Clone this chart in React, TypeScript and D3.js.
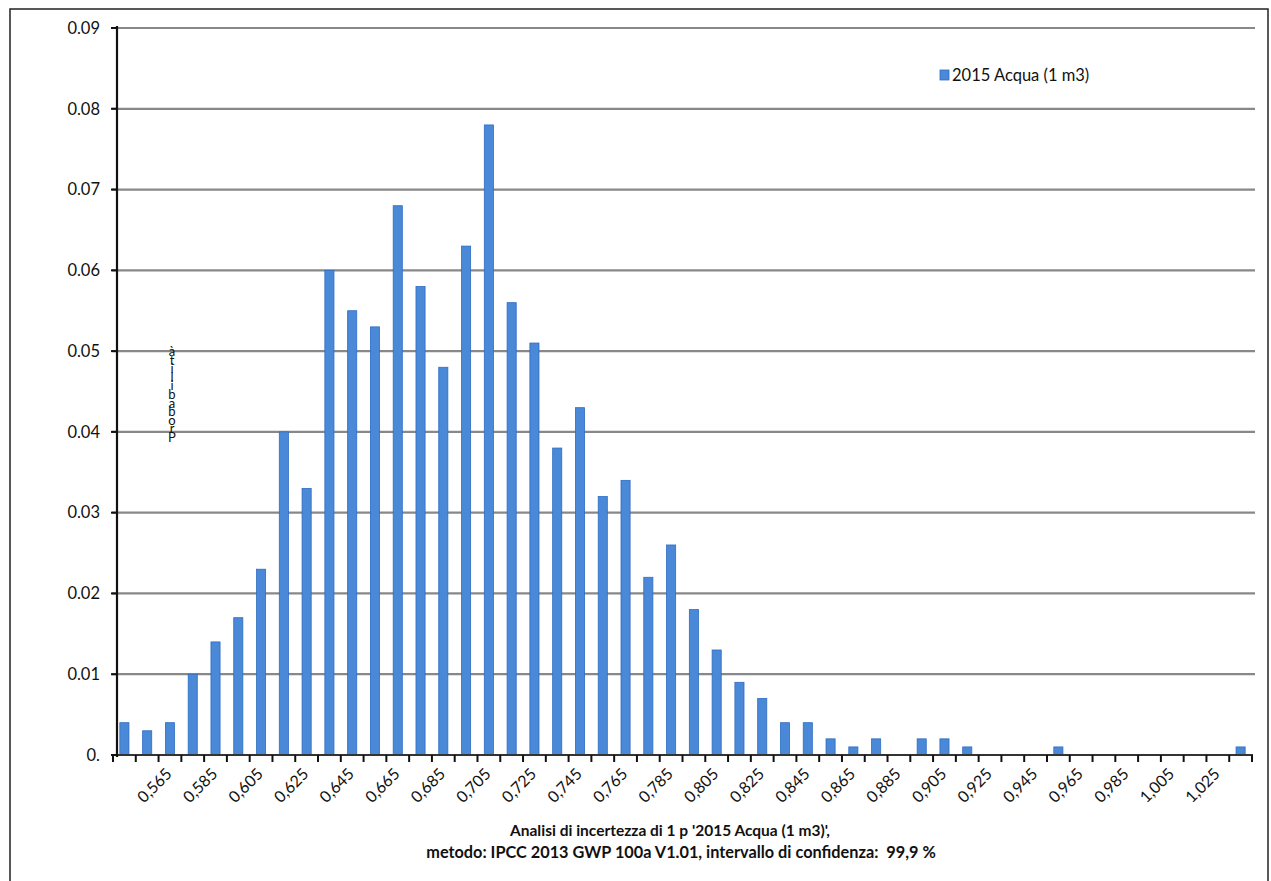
import React from "react";
import * as d3 from "d3";

const categories: string[] = [
  "0,545","0,555","0,565","0,575","0,585","0,595","0,605","0,615","0,625","0,635",
  "0,645","0,655","0,665","0,675","0,685","0,695","0,705","0,715","0,725","0,735",
  "0,745","0,755","0,765","0,775","0,785","0,795","0,805","0,815","0,825","0,835",
  "0,845","0,855","0,865","0,875","0,885","0,895","0,905","0,915","0,925","0,935",
  "0,945","0,955","0,965","0,975","0,985","0,995","1,005","1,015","1,025","1,035"
];

const values: number[] = [
  0.004,0.003,0.004,0.010,0.014,0.017,0.023,0.040,0.033,0.060,
  0.055,0.053,0.068,0.058,0.048,0.063,0.078,0.056,0.051,0.038,
  0.043,0.032,0.034,0.022,0.026,0.018,0.013,0.009,0.007,0.004,
  0.004,0.002,0.001,0.002,0.000,0.002,0.002,0.001,0.000,0.000,
  0.000,0.001,0.000,0.000,0.000,0.000,0.000,0.000,0.000,0.001
];

const xTickLabels: string[] = [
  "0,565","0,585","0,605","0,625","0,645","0,665","0,685","0,705","0,725","0,745",
  "0,765","0,785","0,805","0,825","0,845","0,865","0,885","0,905","0,925","0,945",
  "0,965","0,985","1,005","1,025"
];

const yTicks: number[] = [0, 0.01, 0.02, 0.03, 0.04, 0.05, 0.06, 0.07, 0.08, 0.09];
const yTickLabels: string[] = ["0.", "0.01", "0.02", "0.03", "0.04", "0.05", "0.06", "0.07", "0.08", "0.09"];

const seriesName = "2015 Acqua (1 m3)";
const yTitle = "Probabilità";
const title1 = "Analisi di incertezza di 1 p '2015 Acqua (1 m3)',";
const title2 = "metodo: IPCC 2013 GWP 100a V1.01, intervallo di confidenza:  99,9 %";

const W = 1271;
const H = 881;
const FONT = "Lato, 'Open Sans', sans-serif";

export default function App() {
  const x = d3
    .scaleBand<string>()
    .domain(categories)
    .range([113, 1252])
    .paddingInner(0.6)
    .paddingOuter(0.3);
  const step = x.step();
  const y = d3.scaleLinear().domain([0, 0.09]).range([755, 28]);
  const x0 = 113;
  const x1 = 1252;
  const yAxisX = 117;
  const stacked = Array.from(yTitle).reverse().join("");

  return (
    <svg
      width={W}
      height={H}
      style={{ position: "absolute", left: 0, top: 0, background: "#fff" }}
      fontFamily={FONT}
    >
      <rect x={0} y={0} width={W} height={H} fill="#fff" />
      {/* outer border */}
      <rect x={10} y={9} width={1258} height={H + 10} fill="none" stroke="#222" strokeWidth={1.5} />

      {/* gridlines */}
      {yTicks.map((t, i) =>
        t === 0 ? null : (
          <line key={"g" + i} x1={yAxisX - 5} x2={1255} y1={y(t)} y2={y(t)} stroke="#888" strokeWidth={2.2} />
        )
      )}

      {/* bars */}
      {categories.map((c, i) =>
        values[i] > 0 ? (
          <rect
            key={"b" + i}
            x={x(c)!}
            y={y(values[i])}
            width={x.bandwidth()}
            height={y(0) - y(values[i])}
            fill="#4a88d8"
            stroke="#2f6cc4"
            strokeWidth={0.8}
          />
        ) : null
      )}

      {/* x axis */}
      <line x1={x0} x2={x1 + 1} y1={y(0)} y2={y(0)} stroke="#333" strokeWidth={2} />
      {d3.range(categories.length + 1).map((i) => (
        <line
          key={"xt" + i}
          x1={x0 + i * step}
          x2={x0 + i * step}
          y1={y(0)}
          y2={y(0) + 7}
          stroke="#111"
          strokeWidth={2}
        />
      ))}

      {/* y axis */}
      <line x1={yAxisX} x2={yAxisX} y1={y(0.09) - 2} y2={y(0) + 2} stroke="#111" strokeWidth={2.2} />
      {yTicks.map((t, i) => (
        <g key={"yt" + i}>
          <line x1={yAxisX - 6} x2={yAxisX} y1={y(t)} y2={y(t)} stroke="#111" strokeWidth={2} />
          <text x={100} y={y(t)} dy="0.35em" textAnchor="end" fontSize={16.5} fill="#111">
            {yTickLabels[i]}
          </text>
        </g>
      ))}

      {/* x tick labels */}
      {xTickLabels.map((lab) => {
        const cx = x(lab)! + x.bandwidth() / 2 + 3;
        const cy = y(0) + 20;
        return (
          <text
            key={"xl" + lab}
            x={cx}
            y={cy}
            textAnchor="end"
            fontSize={16}
            fill="#111"
            transform={`rotate(-45 ${cx} ${cy})`}
          >
            {lab}
          </text>
        );
      })}

      {/* y axis title (stacked upright characters) */}
      <text
        x={172}
        y={343}
        fontSize={13}
        fill="#111"
        style={{ writingMode: "vertical-rl", textOrientation: "upright", letterSpacing: "-7.4px" } as any}
      >
        {stacked}
      </text>

      {/* legend */}
      <rect x={940} y={70} width={9} height={10} fill="#4a88d8" stroke="#2f6cc4" strokeWidth={0.8} />
      <text x={952} y={81} fontSize={16.5} fill="#111">
        {seriesName}
      </text>

      {/* title */}
      <text x={670} y={836} textAnchor="middle" fontSize={15.5} fontWeight="bold" fill="#111">
        {title1}
      </text>
      <text
        x={681}
        y={858}
        textAnchor="middle"
        fontSize={16.3}
        fontWeight="bold"
        fill="#111"
        style={{ whiteSpace: "pre" }}
      >
        {title2}
      </text>
    </svg>
  );
}
